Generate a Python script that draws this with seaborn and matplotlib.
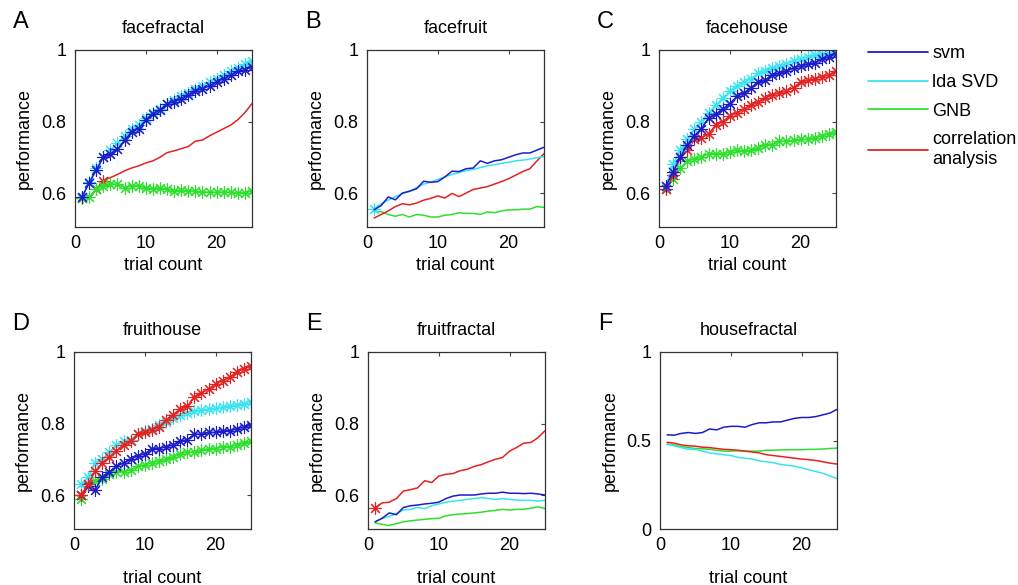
import numpy as np
import pandas as pd
import matplotlib
matplotlib.use("Agg")
import matplotlib.pyplot as plt
from matplotlib.lines import Line2D
import seaborn as sns

# trial axis and methods
trials = list(range(1, 26))
methods = ["svm", "lda SVD", "GNB", "correlation analysis"]
legend_labels = ["svm", "lda SVD", "GNB", "correlation\nanalysis"]
panels = ["facefractal", "facefruit", "facehouse", "fruithouse", "fruitfractal", "housefractal"]
letters = ["A", "B", "C", "D", "E", "F"]

# performance values (per panel, per method)
facefractal_svm = [0.589, 0.628, 0.664, 0.70, 0.708, 0.722, 0.748, 0.771, 0.78, 0.804, 0.822, 0.832, 0.85,
                   0.855, 0.864, 0.873, 0.886, 0.892, 0.90, 0.91, 0.92, 0.93, 0.94, 0.945, 0.953]
facefractal_lda = [0.59, 0.63, 0.67, 0.70, 0.72, 0.74, 0.76, 0.78, 0.79, 0.81, 0.825, 0.835, 0.85,
                   0.86, 0.87, 0.88, 0.89, 0.90, 0.91, 0.92, 0.93, 0.94, 0.95, 0.96, 0.97]
facefractal_gnb = [0.585, 0.59, 0.61, 0.62, 0.625, 0.625, 0.615, 0.62, 0.62, 0.615, 0.612, 0.615, 0.61,
                   0.607, 0.608, 0.607, 0.605, 0.603, 0.602, 0.602, 0.603, 0.602, 0.60, 0.601, 0.605]
facefractal_corr = [0.585, 0.585, 0.61, 0.635, 0.643, 0.652, 0.662, 0.67, 0.676, 0.684, 0.69, 0.70, 0.713,
                    0.718, 0.724, 0.73, 0.745, 0.748, 0.76, 0.77, 0.78, 0.79, 0.805, 0.825, 0.85]

facefruit_svm = [0.553, 0.565, 0.589, 0.581, 0.60, 0.605, 0.612, 0.633, 0.63, 0.632, 0.645, 0.661, 0.66,
                 0.668, 0.67, 0.69, 0.683, 0.69, 0.693, 0.70, 0.707, 0.712, 0.712, 0.72, 0.728]
facefruit_lda = [0.555, 0.57, 0.58, 0.59, 0.598, 0.605, 0.615, 0.625, 0.63, 0.638, 0.645, 0.652, 0.657,
                 0.663, 0.666, 0.671, 0.676, 0.679, 0.683, 0.686, 0.69, 0.692, 0.695, 0.699, 0.702]
facefruit_gnb = [0.548, 0.548, 0.54, 0.535, 0.54, 0.533, 0.54, 0.538, 0.533, 0.533, 0.538, 0.54, 0.545,
                 0.543, 0.543, 0.54, 0.547, 0.545, 0.55, 0.553, 0.553, 0.555, 0.555, 0.562, 0.56]
facefruit_corr = [0.53, 0.54, 0.55, 0.562, 0.57, 0.567, 0.572, 0.58, 0.585, 0.592, 0.586, 0.599, 0.59,
                  0.60, 0.61, 0.614, 0.618, 0.625, 0.632, 0.64, 0.65, 0.66, 0.668, 0.69, 0.71]

facehouse_svm = [0.62, 0.66, 0.70, 0.735, 0.76, 0.78, 0.81, 0.82, 0.835, 0.85, 0.87, 0.88, 0.895,
                 0.91, 0.915, 0.93, 0.935, 0.94, 0.95, 0.955, 0.96, 0.965, 0.975, 0.98, 0.99]
facehouse_lda = [0.62, 0.68, 0.72, 0.75, 0.78, 0.80, 0.825, 0.845, 0.865, 0.885, 0.90, 0.91, 0.92,
                 0.935, 0.94, 0.95, 0.955, 0.96, 0.97, 0.975, 0.98, 0.985, 0.99, 0.99, 0.995]
facehouse_gnb = [0.61, 0.64, 0.67, 0.69, 0.695, 0.70, 0.71, 0.71, 0.71, 0.715, 0.72, 0.718, 0.72,
                 0.725, 0.735, 0.735, 0.745, 0.745, 0.748, 0.75, 0.75, 0.755, 0.76, 0.765, 0.77]
facehouse_corr = [0.61, 0.65, 0.70, 0.72, 0.75, 0.755, 0.765, 0.79, 0.80, 0.815, 0.825, 0.835, 0.845,
                  0.855, 0.865, 0.875, 0.88, 0.885, 0.895, 0.91, 0.915, 0.92, 0.925, 0.93, 0.94]

fruithouse_svm = [0.60, 0.625, 0.615, 0.65, 0.665, 0.68, 0.69, 0.70, 0.71, 0.715, 0.73, 0.73, 0.735,
                  0.74, 0.75, 0.755, 0.77, 0.77, 0.775, 0.775, 0.78, 0.78, 0.785, 0.79, 0.795]
fruithouse_lda = [0.63, 0.65, 0.69, 0.70, 0.72, 0.74, 0.75, 0.755, 0.77, 0.78, 0.785, 0.795, 0.805,
                  0.815, 0.825, 0.83, 0.835, 0.838, 0.84, 0.842, 0.845, 0.85, 0.852, 0.855, 0.86]
fruithouse_gnb = [0.59, 0.625, 0.64, 0.645, 0.66, 0.665, 0.665, 0.67, 0.68, 0.685, 0.69, 0.695, 0.70,
                  0.705, 0.715, 0.72, 0.72, 0.725, 0.73, 0.73, 0.735, 0.735, 0.74, 0.745, 0.75]
fruithouse_corr = [0.60, 0.63, 0.667, 0.69, 0.705, 0.723, 0.74, 0.75, 0.77, 0.775, 0.783, 0.79, 0.81,
                   0.825, 0.84, 0.848, 0.874, 0.885, 0.897, 0.91, 0.92, 0.93, 0.944, 0.953, 0.96]

fruitfractal_svm = [0.525, 0.535, 0.55, 0.545, 0.565, 0.57, 0.572, 0.575, 0.577, 0.58, 0.59, 0.597, 0.60,
                    0.60, 0.60, 0.603, 0.605, 0.605, 0.608, 0.605, 0.605, 0.604, 0.605, 0.603, 0.60]
fruitfractal_lda = [0.525, 0.535, 0.54, 0.548, 0.558, 0.56, 0.565, 0.562, 0.57, 0.575, 0.58, 0.583, 0.585,
                    0.588, 0.59, 0.593, 0.59, 0.588, 0.59, 0.588, 0.586, 0.585, 0.585, 0.583, 0.585]
fruitfractal_gnb = [0.522, 0.518, 0.515, 0.52, 0.525, 0.528, 0.53, 0.532, 0.534, 0.535, 0.542, 0.545, 0.547,
                    0.548, 0.55, 0.552, 0.555, 0.557, 0.56, 0.558, 0.56, 0.56, 0.563, 0.567, 0.562]
fruitfractal_corr = [0.564, 0.578, 0.58, 0.59, 0.611, 0.615, 0.62, 0.64, 0.635, 0.653, 0.658, 0.66, 0.668,
                     0.672, 0.68, 0.685, 0.693, 0.70, 0.705, 0.723, 0.733, 0.745, 0.747, 0.76, 0.78]

housefractal_svm = [0.532, 0.53, 0.54, 0.545, 0.54, 0.545, 0.565, 0.56, 0.575, 0.58, 0.58, 0.575, 0.59,
                    0.60, 0.60, 0.605, 0.605, 0.615, 0.625, 0.63, 0.63, 0.635, 0.645, 0.655, 0.676]
housefractal_lda = [0.48, 0.47, 0.46, 0.45, 0.45, 0.44, 0.43, 0.425, 0.42, 0.415, 0.405, 0.40, 0.395,
                    0.385, 0.38, 0.375, 0.365, 0.36, 0.355, 0.345, 0.335, 0.325, 0.315, 0.30, 0.285]
housefractal_gnb = [0.48, 0.475, 0.465, 0.46, 0.455, 0.453, 0.45, 0.445, 0.44, 0.44, 0.442, 0.44, 0.44,
                    0.44, 0.445, 0.445, 0.447, 0.448, 0.448, 0.448, 0.45, 0.45, 0.452, 0.455, 0.457]
housefractal_corr = [0.49, 0.485, 0.475, 0.47, 0.468, 0.462, 0.46, 0.455, 0.45, 0.448, 0.445, 0.44, 0.435,
                     0.43, 0.42, 0.415, 0.41, 0.405, 0.40, 0.395, 0.392, 0.387, 0.38, 0.372, 0.367]

values = {
    "facefractal": [facefractal_svm, facefractal_lda, facefractal_gnb, facefractal_corr],
    "facefruit": [facefruit_svm, facefruit_lda, facefruit_gnb, facefruit_corr],
    "facehouse": [facehouse_svm, facehouse_lda, facehouse_gnb, facehouse_corr],
    "fruithouse": [fruithouse_svm, fruithouse_lda, fruithouse_gnb, fruithouse_corr],
    "fruitfractal": [fruitfractal_svm, fruitfractal_lda, fruitfractal_gnb, fruitfractal_corr],
    "housefractal": [housefractal_svm, housefractal_lda, housefractal_gnb, housefractal_corr],
}

# trials marked with an asterisk (1-based), "all" = every trial
ALL = "all"
starred = {
    "facefractal": [ALL, ALL, ALL, [1, 3, 4]],
    "facefruit": [[], [1], [], []],
    "facehouse": [ALL, ALL, ALL, ALL],
    "fruithouse": [ALL, ALL, ALL, ALL],
    "fruitfractal": [[], [], [], [1]],
    "housefractal": [[], [], [], []],
}

rows = []
for p in panels:
    for m, ys in zip(methods, values[p]):
        for t, y in zip(trials, ys):
            rows.append({"panel": p, "method": m, "trial": t, "perf": y})
df = pd.DataFrame(rows)

colors = {"svm": "#1c1cc8", "lda SVD": "#38e4f2", "GNB": "#2ee02e", "correlation analysis": "#e42222"}
# draw order so the overlapping star lines look like the original
draw_order = {
    "facefractal": ["correlation analysis", "GNB", "lda SVD", "svm"],
    "facefruit": ["GNB", "correlation analysis", "lda SVD", "svm"],
    "facehouse": ["GNB", "correlation analysis", "lda SVD", "svm"],
    "fruithouse": ["GNB", "svm", "lda SVD", "correlation analysis"],
    "fruitfractal": ["GNB", "lda SVD", "svm", "correlation analysis"],
    "housefractal": ["GNB", "lda SVD", "correlation analysis", "svm"],
}

sns.set_style("white")
plt.rcParams["font.family"] = ["Liberation Sans", "DejaVu Sans"]
plt.rcParams["font.size"] = 13
plt.rcParams["text.color"] = "black"
plt.rcParams["axes.labelcolor"] = "black"
plt.rcParams["xtick.color"] = "black"
plt.rcParams["ytick.color"] = "black"

fig = plt.figure(figsize=(10.18, 5.85), dpi=100)
W, H = 1018, 585
boxes = [(75, 50), (367, 50), (659, 50), (74, 352), (368, 352), (660, 352)]
aw, ah = 177, 177

asterisk = (8, 2, 0)

for i, p in enumerate(panels):
    x0, y0 = boxes[i]
    ax = fig.add_axes([x0 / W, 1 - (y0 + ah) / H, aw / W, ah / H])
    sub = df[df.panel == p]
    for m in draw_order[p]:
        k = methods.index(m)
        s = starred[p][k]
        if s == ALL:
            mk = list(range(len(trials)))
        else:
            mk = [t - 1 for t in s]
        kw = {}
        if mk:
            kw = dict(marker=asterisk, markevery=mk, markersize=9,
                      markeredgewidth=0.8, markeredgecolor=colors[m], markerfacecolor=colors[m])
        sns.lineplot(data=sub[sub.method == m], x="trial", y="perf", color=colors[m],
                     linewidth=1.1, ax=ax, legend=False, **kw)
    ax.set_xlim(0, 25)
    ax.set_xticks([0, 10, 20])
    if p == "housefractal":
        ax.set_ylim(0, 1)
        ax.set_yticks([0, 0.5, 1])
        ax.set_yticklabels(["0", "0.5", "1"])
    else:
        ax.set_ylim(0.505, 1)
        ax.set_yticks([0.6, 0.8, 1])
        ax.set_yticklabels(["0.6", "0.8", "1"])
    ax.tick_params(direction="in", length=3, width=0.8, top=True, right=True,
                   labelsize=13, pad=6, color="#444444")
    for sp in ax.spines.values():
        sp.set_color("#333333")
        sp.set_linewidth(0.9)
    ax.set_title(p, fontsize=13, pad=12)
    ax.set_xlabel("trial count", fontsize=13, labelpad=3 if i < 3 else 11)
    ax.set_ylabel("performance", fontsize=13, labelpad=6)
    fig.text((x0 - 62) / W, 1 - (y0 - 28) / H, letters[i], fontsize=17, ha="left", va="center")

handles = [Line2D([0], [0], color=colors[m], linewidth=1.3) for m in methods]
fig.legend(handles, legend_labels, loc="upper left", bbox_to_anchor=(852 / W, 1 - 29 / H),
           frameon=False, fontsize=13, handlelength=3.3, handletextpad=0.25, labelspacing=0.65)

plt.savefig("out.png", dpi=100)
